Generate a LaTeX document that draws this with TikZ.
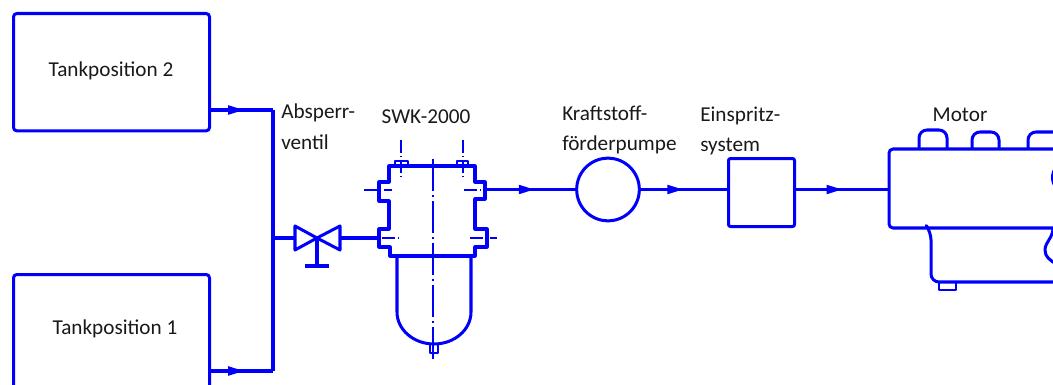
\documentclass[tikz,border=0pt]{standalone}
\usepackage{fontspec}
\setmainfont{Carlito}
\usetikzlibrary{decorations.markings}
\definecolor{pipeblue}{RGB}{0,0,250}
\begin{document}
\begin{tikzpicture}[
    x=0.75pt, y=-0.75pt,
    pipe/.style={draw=pipeblue, line width=2.26pt, line join=round},
    smallpipe/.style={draw=pipeblue, line width=1.7pt, line join=round},
    axis/.style={draw=pipeblue, line width=1pt, dash pattern=on 10pt off 2pt on 1pt off 2pt},
    longaxis/.style={axis, dash pattern=on 24pt off 3pt on 1.5pt off 3pt},
    flow/.style={pipe, postaction={decorate}, decoration={markings,
        mark=at position #1 with {\fill[pipeblue] (-8.5pt,-3.6pt) -- (3pt,0) -- (-8.5pt,3.6pt) -- cycle;}}},
    box/.style={rectangle, pipe, rounded corners=2.5pt, inner sep=0, anchor=north west},
    txt/.style={font=\fontsize{15.9pt}{23pt}\selectfont, text=black!90, inner sep=0},
    sidetxt/.style={txt, align=left, anchor=west}]

\useasboundingbox (0,0) rectangle (1053,385);
\clip (0,0) rectangle (1053,385);

\node (tanktwo) [box, minimum width=147pt, minimum height=88pt] at (12,12) {};
\node (tankone) [box, minimum width=147pt, minimum height=88pt] at (12,273) {};
\node (tanktwotxt) [txt] at (111,71) {Tankposition 2};
\node (tankonetxt) [txt] at (115,329) {Tankposition 1};
\node (valvetxt) [sidetxt] at (281,127) {Absperr-\\ventil};
\node (filtertxt) [txt] at (426,117) {SWK-2000};
\node (pumptxt) [sidetxt] at (562,130) {Kraftstoff-\\förderpumpe};
\node (injecttxt) [sidetxt] at (700,131) {Einspritz-\\system};
\node (motortxt) [txt] at (960,115) {Motor};

\node (pump) [circle, pipe, minimum size=47pt, inner sep=0] at (608,189.5) {};
\node (inject) [box, minimum width=49.5pt, minimum height=51pt, rounded corners=1.5pt] at (727,157) {};
\coordinate (junctop) at (273,110);
\coordinate (juncmid) at (273,238);
\coordinate (juncbot) at (273,371);
\coordinate (valveleft) at (295,238);
\coordinate (valvemid) at (317,238);
\coordinate (valveright) at (340,238);
\coordinate (filterin) at (379,238);
\coordinate (filterout) at (485,189.5);
\coordinate (motorin) at (889,189.5);

% feed lines from the tanks
\path[flow=0.46] (tanktwo.east |- junctop) -- (junctop);
\path[flow=0.46] (tankone.east |- juncbot) -- (juncbot);
\path[pipe] (junctop) -- (juncbot);
\path[pipe] (juncmid) -- (valveleft);

% valve
\path[pipe] (valvemid) -- (valveleft |- 0,226) -- (valveleft |- 0,250) -- cycle;
\path[pipe] (valvemid) -- (valveright |- 0,226) -- (valveright |- 0,250) -- cycle;
\path[pipe] (valvemid) -- (317,266);
\path[pipe] (305,266) -- (329,266);
\path[pipe] (valveright) -- (filterin);

% filter
\path[pipe] (389,166) -- (475,166) -- (475,182) -- (485,182) -- (485,199) -- (475,199) -- (475,229)
    -- (487,229) -- (487,247) -- (475,247) -- (475,256) -- (390,256) -- (390,247) -- (379,247) -- (379,229)
    -- (389,229) -- (389,201) -- (379,201) -- (379,182) -- (389,182) -- cycle;
\path[pipe] (397,256) -- (397,312) arc[start angle=180, end angle=360, x radius=37, y radius=-32] -- (471,256);
\path[smallpipe] (395,166) -- (395,161) -- (408,161) -- (408,166);
\path[smallpipe] (457,166) -- (457,161) -- (468,161) -- (468,166);
\path[smallpipe] (430,345) -- (430,353) -- (438,353) -- (438,345);
\path[longaxis] (433,159) -- (433,363);
\path[axis] (401,140) -- (401,177);
\path[axis] (463,140) -- (463,177);
\path[axis] (364,190) -- (392,190);
\path[axis] (464,190) -- (484,190);
\path[axis] (382,238) -- (400,238);
\path[axis] (470,238) -- (497,238);

% pump and injection
\path[flow=0.5] (filterout) -- (pump.west);
\path[flow=0.44] (pump.east) -- (inject.west |- pump.east);
\path[flow=0.45] (inject.east |- motorin) -- (motorin);

% motor
\path[pipe, rounded corners=3pt] (1060,149) -- (889,149) -- (889,228) -- (1060,228);
\path[pipe, rounded corners=6pt] (919,149) -- (919,130) -- (947,130) -- (947,149);
\path[pipe, rounded corners=6pt] (972,149) -- (972,132) -- (999,132) -- (999,149);
\path[pipe, rounded corners=6pt] (1028,149) -- (1028,132) -- (1066,132) -- (1066,149);
\path[pipe, rounded corners=6pt] (928,228) -- (931,232) -- (931,282) -- (1060,282);
\path[smallpipe] (939,282) -- (939,290) -- (956,290) -- (956,282);
\path[pipe] (1057,167) .. controls (1051,172) and (1051,183) .. (1057,188);
\path[pipe] (1053,228) .. controls (1053,238) and (1045,242) .. (1045,250) .. controls (1045,257) and (1050,260) .. (1056,264);
\end{tikzpicture}
\end{document}
